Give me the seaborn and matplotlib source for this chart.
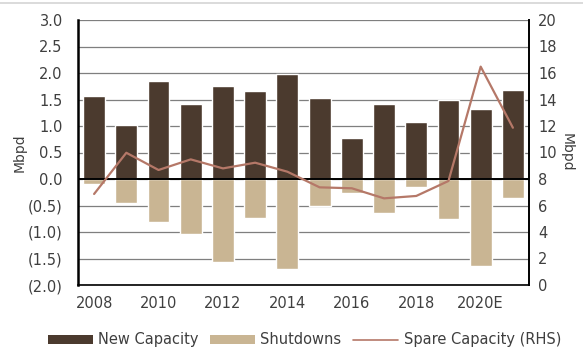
import numpy as np
import pandas as pd
import matplotlib
matplotlib.use("Agg")
import matplotlib.pyplot as plt
import seaborn as sns
from matplotlib.ticker import FuncFormatter, MultipleLocator
from matplotlib.patches import Patch
from matplotlib.lines import Line2D

# Annual capacity changes (Mbpd) and spare capacity (Mbpd, right-hand scale)
years = ["2008", "2009", "2010", "2011", "2012", "2013", "2014",
         "2015", "2016", "2017", "2018", "2019", "2020E", "2021E"]
new_capacity = [1.57, 1.02, 1.84, 1.41, 1.75, 1.66, 1.98,
                1.53, 0.77, 1.42, 1.08, 1.50, 1.33, 1.67]
shutdowns = [-0.10, -0.46, -0.82, -1.04, -1.57, -0.74, -1.70,
             -0.50, -0.26, -0.64, -0.16, -0.75, -1.65, -0.36]
spare_capacity = [6.87, 9.98, 8.68, 9.48, 8.80, 9.23, 8.55,
                  7.37, 7.30, 6.54, 6.72, 7.85, 16.48, 11.87]

DARK = "#4b3a2e"
TAN = "#c9b593"
LINE = "#b57868"
TEXT = "#3f3f3f"
FS = 10.5

sns.set_theme(style="white")
plt.rcParams["font.family"] = ["DejaVu Sans"]
plt.rcParams["font.size"] = FS

df = pd.DataFrame({"year": years, "new": new_capacity, "shut": shutdowns})

fig = plt.figure(figsize=(5.83, 3.54), dpi=100)
ax = fig.add_axes([78 / 583, 1 - 285 / 354, (529 - 78) / 583, (285 - 20) / 354])

sns.barplot(data=df, x="year", y="new", color=DARK, width=0.68,
            saturation=1, ax=ax, zorder=3)
sns.barplot(data=df, x="year", y="shut", color=TAN, width=0.68,
            saturation=1, ax=ax, zorder=3)

ax.set_ylim(-2.0, 3.0)
ax.yaxis.set_major_locator(MultipleLocator(0.5))
ax.yaxis.set_major_formatter(FuncFormatter(
    lambda v, _: f"({abs(v):.1f})" if v < -1e-9 else f"{abs(v):.1f}"))
ax.grid(axis="y", color="#7f7f7f", linewidth=0.9, zorder=0)
ax.set_axisbelow(True)
ax.axhline(0, color="black", linewidth=1.4, zorder=4)

ax.set_xlim(-0.5, len(years) - 0.5)
ax.set_xticks(range(0, len(years), 2))
ax.set_xticklabels([years[i] for i in range(0, len(years), 2)])
ax.set_xlabel("")
ax.set_ylabel("Mbpd", color=TEXT, fontsize=10, labelpad=1)
ax.tick_params(axis="both", length=0, colors=TEXT, labelsize=FS)
ax.tick_params(axis="x", pad=8)
ax.tick_params(axis="y", pad=11)

ax.spines["top"].set_visible(False)
ax.spines["right"].set_visible(False)
ax.spines["left"].set_color("black")
ax.spines["left"].set_linewidth(1.8)
ax.spines["bottom"].set_color("black")
ax.spines["bottom"].set_linewidth(1.2)

ax2 = ax.twinx()
sns.lineplot(x=np.arange(len(years)), y=spare_capacity, color=LINE,
             linewidth=1.6, ax=ax2, zorder=5)
ax2.set_ylim(0, 20)
ax2.yaxis.set_major_locator(MultipleLocator(2))
ax2.set_ylabel("Mbpd", color=TEXT, fontsize=10, rotation=-90, labelpad=12)
ax2.tick_params(axis="y", length=0, colors=TEXT, labelsize=FS, pad=6.5)
ax2.spines["top"].set_visible(False)
ax2.spines["left"].set_visible(False)
ax2.spines["bottom"].set_visible(False)
ax2.spines["right"].set_color("black")
ax2.spines["right"].set_linewidth(1.4)
ax2.grid(False)

handles = [Patch(facecolor=DARK, edgecolor="none"),
           Patch(facecolor=TAN, edgecolor="none"),
           Line2D([], [], color=LINE, linewidth=1.2)]
labels = ["New Capacity", "Shutdowns", "Spare Capacity (RHS)"]
fig.legend(handles, labels, loc="center", bbox_to_anchor=(0.522, 0.04),
           ncol=3, frameon=False, fontsize=FS, handlelength=3.1,
           handleheight=0.55, handletextpad=0.35, columnspacing=0.8,
           borderpad=0.2, labelcolor=TEXT)

# thin frame rule along the top edge
fig.add_artist(Line2D([0, 1], [1 - 2.5 / 354] * 2, color="#d4d4d4",
                      linewidth=1.2, transform=fig.transFigure))

fig.savefig("out.png", dpi=100, facecolor="white")
